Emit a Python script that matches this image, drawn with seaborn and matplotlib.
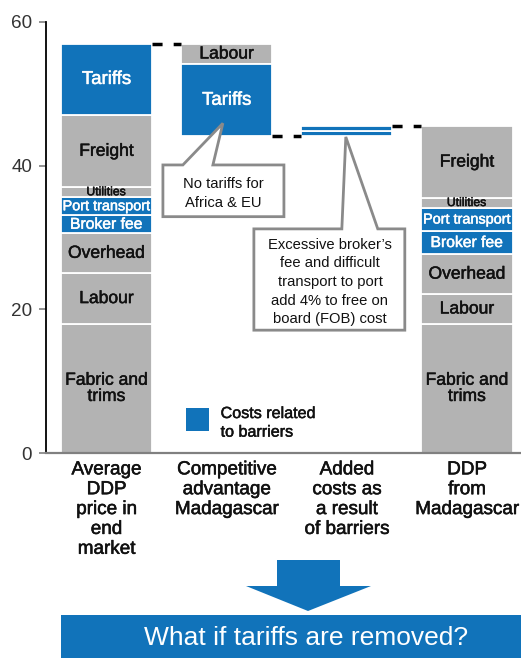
import matplotlib
matplotlib.use("Agg")
import matplotlib.pyplot as plt
import matplotlib.patheffects as pe
import seaborn as sns
import pandas as pd
from matplotlib.patches import Polygon, Rectangle

sns.set_theme(style="white")
plt.rcParams['font.family'] = ['Liberation Sans', 'DejaVu Sans']

BLUE = "#1173BA"
GREY = "#B3B3B3"

categories = ["Average\nDDP\nprice in\nend\nmarket",
              "Competitive\nadvantage\nMadagascar",
              "Added\ncosts as\na result\nof barriers",
              "DDP\nfrom\nMadagascar"]

# Bar 1: average DDP price (bottom -> top)
bar1_segments = ["Fabric and\ntrims", "Labour", "Overhead", "Broker fee",
                 "Port transport", "Utilities", "Freight", "Tariffs"]
bar1_values = [18.0, 7.0, 5.6, 2.5, 2.5, 1.4, 10.0, 10.0]
bar1_barrier = [False, False, False, True, True, False, False, True]

# Bar 2: competitive advantage (reductions, from top down)
bar2_segments = ["Labour", "Tariffs"]
bar2_values = [2.9, 10.0]
bar2_barrier = [False, True]

# Bar 3: added costs from barriers (bottom -> top)
bar3_segments = ["", ""]
bar3_values = [0.7, 0.7]
bar3_barrier = [True, True]

# Bar 4: DDP from Madagascar (bottom -> top)
bar4_segments = ["Fabric and\ntrims", "Labour", "Overhead", "Broker fee",
                 "Port transport", "Utilities", "Freight"]
bar4_values = [18.0, 4.1, 5.6, 3.2, 3.2, 1.4, 10.0]
bar4_barrier = [False, False, False, True, True, False, False]

label_sizes = {"Utilities": 8.8, "Port transport": 10.4, "Broker fee": 11.3,
               "Tariffs": 13.4}

# ---- build long table with bottoms ----
rows = []
b = 0.0
for s, v, f in zip(bar1_segments, bar1_values, bar1_barrier):
    rows.append((categories[0], s, v, b, f)); b += v
total1 = b
t = total1
for s, v, f in zip(bar2_segments, bar2_values, bar2_barrier):
    rows.append((categories[1], s, v, t - v, f)); t -= v
after2 = t
b = after2
for s, v, f in zip(bar3_segments, bar3_values, bar3_barrier):
    rows.append((categories[2], s, v, b, f)); b += v
after3 = b
b = 0.0
for s, v, f in zip(bar4_segments, bar4_values, bar4_barrier):
    rows.append((categories[3], s, v, b, f)); b += v
total4 = b
df = pd.DataFrame(rows, columns=["category", "segment", "value", "bottom", "barrier"])

def bold_fx(color, w=0.4):
    return [pe.withStroke(linewidth=w, foreground=color)]

fig = plt.figure(figsize=(5.21, 6.58), dpi=100)
ax = fig.add_axes([46/521, 1-453/658, 1-46/521, (453-22)/658])

W = 0.76
for _, r in df.iterrows():
    sns.barplot(x=[r["category"]], y=[r["value"]], order=categories,
                bottom=r["bottom"], color=BLUE if r["barrier"] else GREY,
                width=W, edgecolor="white", linewidth=1.3, errorbar=None,
                saturation=1, ax=ax)
    if r["segment"]:
        xi = categories.index(r["category"])
        size = label_sizes.get(r["segment"], 12.6)
        col = "white" if r["barrier"] else "#111111"
        ax.text(xi, r["bottom"] + r["value"]/2, r["segment"], ha="center",
                va="center", fontsize=size, linespacing=1.1,
                color=col, zorder=5, path_effects=bold_fx(col, 0.35))

# connectors
ls = (0, (2.9, 3.2))
for i, y in [(0, total1), (1, after2), (2, after3)]:
    ax.plot([i + W/2, i + 1 - W/2], [y, y], color="black", lw=2.5,
            linestyle=ls, solid_capstyle="butt", zorder=4)

ax.set_ylim(0, 60)
ax.set_xlim(-0.503, 3.45)
ax.set_yticks([0, 20, 40, 60])
ax.set_xlabel(""); ax.set_ylabel("")
for sp in ["top", "right"]:
    ax.spines[sp].set_visible(False)
ax.spines["left"].set_color("black")
ax.spines["left"].set_linewidth(1.3)
ax.spines["bottom"].set_color("#808080")
ax.spines["bottom"].set_linewidth(1.6)
ax.tick_params(axis="y", length=5, width=1.2, color="#808080",
               labelsize=13.6, labelcolor="#333333", pad=5, left=True)
ax.tick_params(axis="x", length=0, labelsize=13.6, labelcolor="#111111", pad=6)
for tl in ax.get_xticklabels():
    tl.set_linespacing(1.22)
    tl.set_path_effects(bold_fx("#111111", 0.4))

# callouts
def callout(box, base, tip, text, tx, ty):
    x0, x1, ytop, ybot = box
    bl, br = base
    pts = [(x0, ytop), (bl, ytop), tip, (br, ytop), (x1, ytop),
           (x1, ybot), (x0, ybot)]
    ax.add_patch(Polygon(pts, closed=True, facecolor="white",
                         edgecolor="#8a8a8a", lw=2, zorder=6, joinstyle="miter"))
    ax.text(tx, ty, text, ha="center", va="center", fontsize=10.6,
            linespacing=1.42, color="#111111", zorder=7)

callout((0.47, 1.477, 40.1, 32.9), (0.636, 0.886), (0.969, 45.9),
        "No tariffs for\nAfrica & EU", 0.97, 36.1)
callout((1.227, 2.483, 31.2, 17.1), (1.959, 2.258), (1.992, after2 - 0.1),
        "Excessive broker\u2019s\nfee and difficult\ntransport to port\nadd 4% to free on\nboard (FOB) cost",
        1.86, 23.8)

# legend
ax.add_patch(Rectangle((0.661, 3.06), 0.192, 3.2, facecolor=BLUE,
                       edgecolor="none", zorder=5))
ax.text(0.95, 4.2, "Costs related\nto barriers", ha="left", va="center",
        fontsize=11.6, linespacing=1.3, color="#111111", zorder=5,
        path_effects=bold_fx("#111111", 0.35))

# arrow and banner (figure pixel coords)
def px(x, y):
    return (x/521, 1 - y/658)

arrow = [px(277, 560), px(340, 560), px(340, 586), px(371, 586),
         px(308, 611), px(246, 586), px(277, 586)]
fig.add_artist(Polygon(arrow, closed=True, facecolor=BLUE, edgecolor="none",
                       transform=fig.transFigure))
fig.add_artist(Rectangle(px(61, 658), (521-61)/521, 43/658, facecolor=BLUE,
                         edgecolor="none", transform=fig.transFigure))
fig.text(306/521, 1 - 638/658, "What if tariffs are removed?", ha="center",
         va="center", fontsize=19, color="white")

fig.savefig("out.png", dpi=100)
